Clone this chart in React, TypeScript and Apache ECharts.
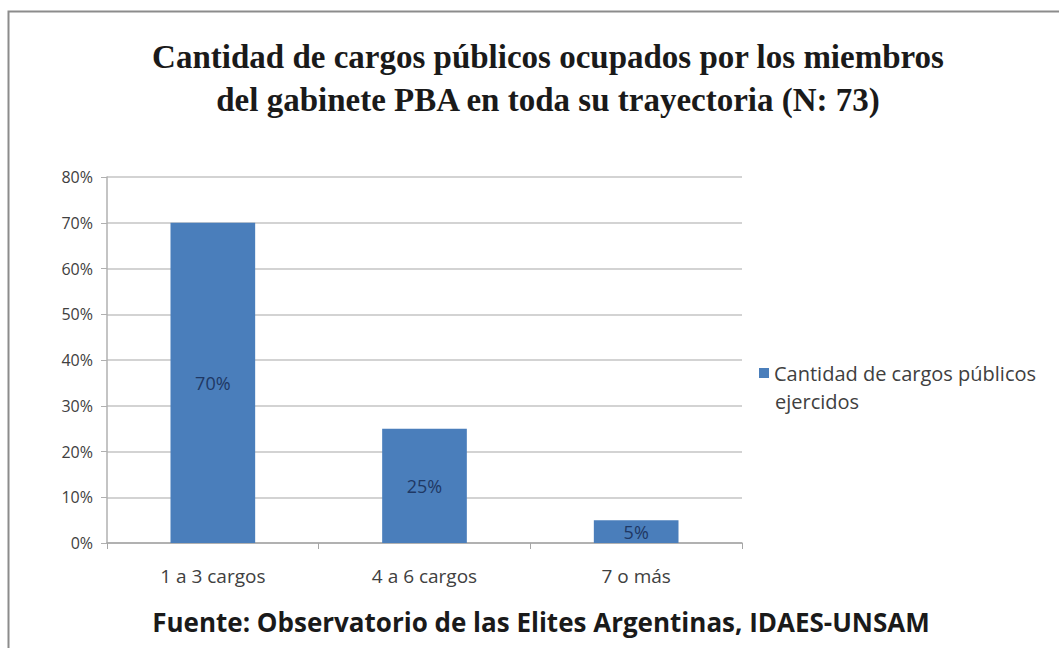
import React, { useEffect, useRef } from "react";
import * as echarts from "echarts";

const categories = ["1 a 3 cargos", "4 a 6 cargos", "7 o más"];
const values = [0.7, 0.25, 0.05];
const seriesName = "Cantidad de cargos públicos ejercidos";
const titleLines = [
  "Cantidad de cargos públicos ocupados por los miembros",
  "del gabinete PBA en toda su trayectoria (N: 73)",
];
const sourceText = "Fuente: Observatorio de las Elites Argentinas, IDAES-UNSAM";

export default function App() {
  const ref = useRef<HTMLDivElement>(null);
  useEffect(() => {
    if (!ref.current) return;
    const chart = echarts.init(ref.current, undefined, { renderer: "svg" });
    const pct = (v: number) => Math.round(v * 100) + "%";
    chart.setOption({
      animation: false,
      backgroundColor: "#ffffff",
      title: {
        text: titleLines.join("\n"),
        left: 543,
        top: 30,
        textAlign: "center",
        textStyle: {
          fontFamily: "Liberation Serif",
          fontWeight: "bold",
          fontSize: 33,
          lineHeight: 43,
          color: "#1a1a1a",
        },
      },
      legend: {
        left: 754,
        top: 358,
        icon: "rect",
        itemWidth: 10,
        itemHeight: 10,
        itemGap: 6,
        formatter: () => "Cantidad de cargos públicos",
        textStyle: { fontFamily: "Open Sans", fontSize: 20, color: "#404040" },
        data: [seriesName],
      },
      grid: { left: 107, right: 317, top: 177, bottom: 105, containLabel: false },
      xAxis: {
        type: "category",
        data: categories,
        axisLine: { show: true, lineStyle: { color: "#a6a6a6", width: 1.5 } },
        axisTick: { show: true, length: 6, lineStyle: { color: "#a6a6a6" } },
        axisLabel: {
          margin: 23,
          fontFamily: "Open Sans",
          fontSize: 19,
          color: "#404040",
        },
      },
      yAxis: {
        type: "value",
        min: 0,
        max: 0.8,
        interval: 0.1,
        axisLine: { show: true, lineStyle: { color: "#b0b0b0", width: 1.5 } },
        axisTick: { show: true, length: 6, lineStyle: { color: "#b0b0b0" } },
        splitLine: { show: true, lineStyle: { color: "#c4c4c4", width: 1.5 } },
        axisLabel: {
          margin: 14,
          formatter: (v: number) => pct(v),
          fontFamily: "Open Sans",
          fontSize: 16,
          color: "#404040",
        },
      },
      series: [
        {
          name: seriesName,
          type: "bar",
          data: values,
          barWidth: "40%",
          itemStyle: { color: "#4a7ebb" },
          label: {
            show: true,
            position: "inside",
            formatter: (p: any) => pct(p.value),
            fontFamily: "Open Sans",
            fontSize: 18,
            color: "#1f3864",
          },
        },
      ],
      graphic: [
        {
          type: "text",
          left: 775,
          top: 391,
          style: {
            text: "ejercidos",
            font: "20px 'Open Sans'",
            fill: "#404040",
          },
        },
        {
          type: "text",
          x: 541,
          y: 622,
          style: {
            text: sourceText,
            font: "bold 26px 'Open Sans'",
            fill: "#1a1a1a",
            textAlign: "center",
            textVerticalAlign: "middle",
          },
        },
        {
          type: "rect",
          shape: { x: 8.5, y: 11.5, width: 1100, height: 700 },
          style: { fill: "none", stroke: "#8c8c8c", lineWidth: 2 },
          z: 100,
        },
      ],
    });
    return () => chart.dispose();
  }, []);
  return (
    <div
      ref={ref}
      style={{ position: "fixed", left: 0, top: 0, width: 1059, height: 648 }}
    />
  );
}
